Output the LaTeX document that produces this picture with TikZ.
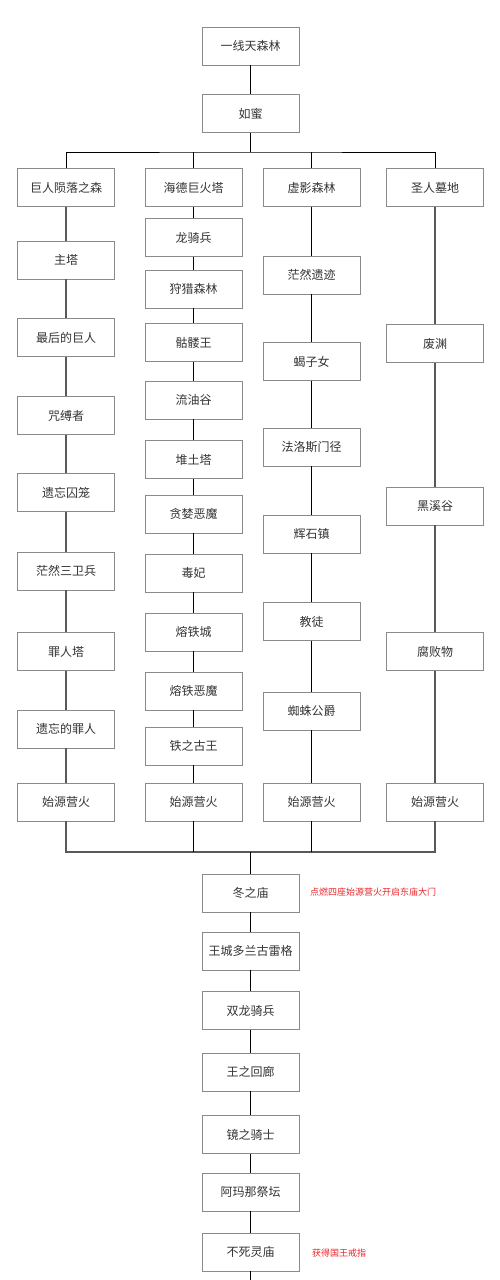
\documentclass[tikz,border=0pt]{standalone}
\usepackage{fontspec}
\newfontfamily\cjk{Noto Sans CJK SC}
\definecolor{notered}{HTML}{E8252A}
\definecolor{boxline}{HTML}{8A8A8A}
\tikzset{
    stage/.style={draw=boxline, line width=0.6pt, minimum width=97pt, minimum height=38pt,
        inner sep=0pt, text=black!80, font=\cjk\fontsize{12pt}{12pt}\selectfont},
    link/.style={draw=black, line width=0.7pt},
    widelink/.style={draw=black!65, line width=1.4pt},
    note/.style={text=notered, anchor=west, inner sep=0pt, font=\cjk\fontsize{9pt}{9pt}\selectfont}
}
\begin{document}
\begin{tikzpicture}[x=1pt, y=-1pt]
            \useasboundingbox (0,0) rectangle (500,1280);
            % Start
            \node[stage] (yxt) at (250.5, 46) {一线天森林};
            \node[stage] (rumi) at (250.5, 113.5) {如蜜};
            \coordinate (busA) at (250.5, 152);

            % First column
            \node[stage] (g0) at (66, 187.5) {巨人陨落之森};
            \node[stage] (g1) at (66, 260) {主塔};
            \node[stage] (g2) at (66, 337.5) {最后的巨人};
            \node[stage] (g3) at (66, 415.5) {咒缚者};
            \node[stage] (g4) at (66, 492.5) {遗忘囚笼};
            \node[stage] (g5) at (66, 571) {茫然三卫兵};
            \node[stage] (g6) at (66, 651.5) {罪人塔};
            \node[stage] (g7) at (66, 729) {遗忘的罪人};
            \node[stage] (g8) at (66, 802) {始源营火};

            % Second column
            \node[stage] (h0) at (193.5, 187.5) {海德巨火塔};
            \node[stage] (h1) at (193.5, 237.5) {龙骑兵};
            \node[stage] (h2) at (193.5, 289) {狩猎森林};
            \node[stage] (h3) at (193.5, 342.5) {骷髅王};
            \node[stage] (h4) at (193.5, 400) {流油谷};
            \node[stage] (h5) at (193.5, 459.5) {堆土塔};
            \node[stage] (h6) at (193.5, 514) {贪婪恶魔};
            \node[stage] (h7) at (193.5, 573) {毒妃};
            \node[stage] (h8) at (193.5, 632) {熔铁城};
            \node[stage] (h9) at (193.5, 691) {熔铁恶魔};
            \node[stage] (h10) at (193.5, 746) {铁之古王};
            \node[stage] (h11) at (193.5, 802) {始源营火};

            % Third column
            \node[stage] (s0) at (311.5, 187.5) {虚影森林};
            \node[stage] (s1) at (311.5, 275) {茫然遗迹};
            \node[stage] (s2) at (311.5, 361.5) {蝎子女};
            \node[stage] (s3) at (311.5, 447) {法洛斯门径};
            \node[stage] (s4) at (311.5, 534) {辉石镇};
            \node[stage] (s5) at (311.5, 621.5) {教徒};
            \node[stage] (s6) at (311.5, 711) {蜘蛛公爵};
            \node[stage] (s7) at (311.5, 802) {始源营火};

            % Fourth column
            \node[stage] (m0) at (435, 187.5) {圣人墓地};
            \node[stage] (m1) at (435, 343.5) {废渊};
            \node[stage] (m2) at (435, 506) {黑溪谷};
            \node[stage] (m3) at (435, 651.5) {腐败物};
            \node[stage] (m4) at (435, 802) {始源营火};

            % End
            \coordinate (busB) at (250.5, 852);
            \node[stage] (t1) at (250.5, 893) {冬之庙};
            \node[stage] (t2) at (250.5, 951) {王城多兰古雷格};
            \node[stage] (t3) at (250.5, 1010.5) {双龙骑兵};
            \node[stage] (t4) at (250.5, 1072) {王之回廊};
            \node[stage] (t5) at (250.5, 1134.5) {镜之骑士};
            \node[stage] (t6) at (250.5, 1192) {阿玛那祭坛};
            \node[stage] (t7) at (250.5, 1252) {不死灵庙};
            \coordinate (tail) at (250.5, 1280);

            \node[note] (n1) at (310, 892) {点燃四座始源营火开启东庙大门};
            \node[note] (n2) at (312, 1253) {获得国王戒指};

            \draw [link] (yxt) -- (rumi);
            \draw [link] (rumi) -- (busA);
            \draw [link] (g0.north) |- (busA) -| (m0.north);
            \draw [link] (h0.north) -- (h0.north |- busA);
            \draw [link] (s0.north) -- (s0.north |- busA);

            \foreach \a/\b in {0/1,1/2,2/3,3/4,4/5,5/6,6/7,7/8}
                \draw [widelink] (g\a) -- (g\b);
            \foreach \a/\b in {0/1,1/2,2/3,3/4,4/5,5/6,6/7,7/8,8/9,9/10,10/11}
                \draw [link] (h\a) -- (h\b);
            \foreach \a/\b in {0/1,1/2,2/3,3/4,4/5,5/6,6/7}
                \draw [link] (s\a) -- (s\b);
            \foreach \a/\b in {0/1,1/2,2/3,3/4}
                \draw [widelink] (m\a) -- (m\b);

            \draw [widelink] (g8.south) |- (busB) -| (m4.south);
            \draw [link] (h11.south) -- (h11.south |- busB);
            \draw [link] (s7.south) -- (s7.south |- busB);
            \draw [link] (busB) -- (t1);
            \foreach \a/\b in {1/2,2/3,3/4,4/5,5/6,6/7}
                \draw [link] (t\a) -- (t\b);
            \draw [link] (t7) -- (tail);

        \end{tikzpicture}
\end{document}
